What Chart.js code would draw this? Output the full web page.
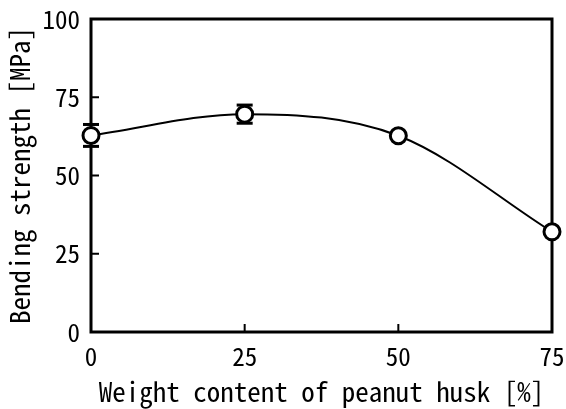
<!DOCTYPE html>
<html>
<head>
<meta charset="utf-8">
<script src="https://cdn.jsdelivr.net/npm/chart.js@4"></script>
<style>
  html, body { margin: 0; padding: 0; background: #fff; }
  #wrap { width: 566px; height: 409px; }
</style>
</head>
<body>
<div id="wrap"><canvas id="chart"></canvas></div>
<script>
const husk_content = [0, 25, 50, 75];
const bending_strength = [62.8, 69.6, 62.7, 32.0];
const strength_error = [3.5, 2.9, 0, 0];
const x_ticks = [0, 25, 50, 75];
const y_ticks = [0, 25, 50, 75, 100];

const font_family = '"Noto Sans Mono CJK JP", "Liberation Mono", monospace';

// box round the plot area, with ticks pointing inward
const frame_plugin = {
  id: 'frame',
  beforeDatasetsDraw(chart) {
    const ctx = chart.ctx;
    const a = chart.chartArea;
    const xs = chart.scales.x, ys = chart.scales.y;
    ctx.save();
    ctx.strokeStyle = '#000';
    ctx.lineWidth = 3;
    ctx.strokeRect(a.left, a.top, a.right - a.left, a.bottom - a.top);
    ctx.lineWidth = 2;
    ctx.beginPath();
    x_ticks.slice(1, -1).forEach(v => {
      const px = xs.getPixelForValue(v);
      ctx.moveTo(px, a.bottom);
      ctx.lineTo(px, a.bottom - 8);
    });
    y_ticks.slice(1, -1).forEach(v => {
      const py = ys.getPixelForValue(v);
      ctx.moveTo(a.left, py);
      ctx.lineTo(a.left + 8, py);
    });
    ctx.stroke();

    // error bars, behind the markers
    ctx.lineWidth = 2;
    husk_content.forEach((x, i) => {
      const e = strength_error[i];
      if (!e) return;
      const px = xs.getPixelForValue(x);
      const top = ys.getPixelForValue(bending_strength[i] + e);
      const bot = ys.getPixelForValue(bending_strength[i] - e);
      ctx.beginPath();
      ctx.moveTo(px, top);
      ctx.lineTo(px, bot);
      ctx.stroke();
      ctx.fillStyle = '#000';
      ctx.fillRect(px - 8, top - 1.5, 16, 3);
      ctx.fillRect(px - 8, bot - 1.5, 16, 3);
    });
    ctx.restore();
  }
};

new Chart(document.querySelector('#chart'), {
  type: 'scatter',
  data: {
    datasets: [{
      label: 'Bending strength',
      data: husk_content.map((x, i) => ({ x: x, y: bending_strength[i] })),
      showLine: true,
      cubicInterpolationMode: 'monotone',
      borderColor: '#000',
      borderWidth: 2,
      pointRadius: 8,
      pointBorderWidth: 3,
      pointBackgroundColor: '#fff',
      pointBorderColor: '#000',
      clip: false
    }]
  },
  options: {
    responsive: true,
    maintainAspectRatio: false,
    animation: false,
    layout: { padding: { left: 0, right: 14, top: 19, bottom: 0 } },
    plugins: { legend: { display: false }, tooltip: { enabled: false } },
    scales: {
      x: {
        type: 'linear',
        min: 0,
        max: 75,
        afterBuildTicks: s => { s.ticks = x_ticks.map(v => ({ value: v })); },
        afterFit: s => { s.height = 77; s.paddingLeft = 0; s.paddingRight = 0; },
        grid: { display: false, drawTicks: false },
        border: { display: false },
        ticks: {
          color: '#000',
          padding: 9,
          maxRotation: 0,
          font: { family: font_family, size: 25 }
        },
        title: {
          display: true,
          text: 'Weight content of peanut husk [%]',
          color: '#000',
          padding: { top: 0, bottom: 1 },
          font: { family: font_family, size: 27 }
        }
      },
      y: {
        min: 0,
        max: 100,
        afterBuildTicks: s => { s.ticks = y_ticks.map(v => ({ value: v })); },
        afterFit: s => { s.width = 91; s.paddingTop = 0; s.paddingBottom = 0; },
        grid: { display: false, drawTicks: false },
        border: { display: false },
        ticks: {
          color: '#000',
          padding: 11,
          font: { family: font_family, size: 25 }
        },
        title: {
          display: true,
          text: 'Bending strength [MPa]',
          color: '#000',
          padding: { top: 4, bottom: 0 },
          font: { family: font_family, size: 27 }
        }
      }
    }
  },
  plugins: [frame_plugin]
});
</script>
</body>
</html>
